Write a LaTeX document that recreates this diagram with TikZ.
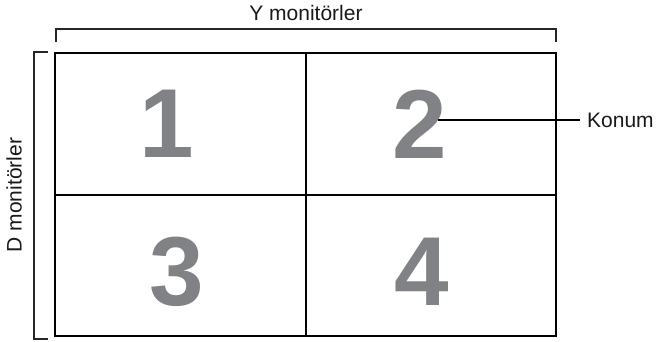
\documentclass[tikz,border=0pt]{standalone}
\usepackage{fontspec}
\setmainfont{Liberation Sans}
\definecolor{numgray}{RGB}{128,130,133}

\begin{document}
\begin{tikzpicture}[x=1pt, y=-1pt,
  cell/.style={line width=1.8pt},
  brace/.style={line width=1.3pt, draw=black!85},
  num/.style={text=numgray, font=\fontsize{98}{98}\selectfont\bfseries},
  lbl/.style={font=\fontsize{21}{25}\selectfont, text=black!90}]
  \useasboundingbox (0,0) rectangle (657,341);
  % 2x2 duvar
  \coordinate (NW) at (55,53);
  \coordinate (SE) at (556,336);
  \coordinate (M) at (306,195);
  \draw[cell] (NW) rectangle (SE);
  \draw[cell] (M |- NW) -- (M |- SE);
  \draw[cell] (NW |- M) -- (SE |- M);
  % koseli ayraclar
  \draw[brace] (56,42) -- (56,29) -- (556,29) -- (556,42);
  \draw[brace] (48,52) -- (34,52) -- (34,339) -- (48,339);
  \node[lbl] (ylbl) at (306,13) {Y monitörler};
  \node[lbl, rotate=90] (dlbl) at (14,195) {D monitörler};
  % monitor numaralari (hucre ortasinin biraz solunda)
  \node[num] (n1) at (167,124) {1};
  \node[num] (n2) at (420,124) {2};
  \node[num] (n3) at (177,272) {3};
  \node[num] (n4) at (422,272) {4};
  % konum
  \coordinate (pin) at (438,120);
  \node[lbl, anchor=west, inner sep=0pt] (konum) at (587,120) {Konum};
  \draw[line width=1.2pt] (pin) -- ([xshift=-7pt]konum.west);
\end{tikzpicture}
\end{document}
